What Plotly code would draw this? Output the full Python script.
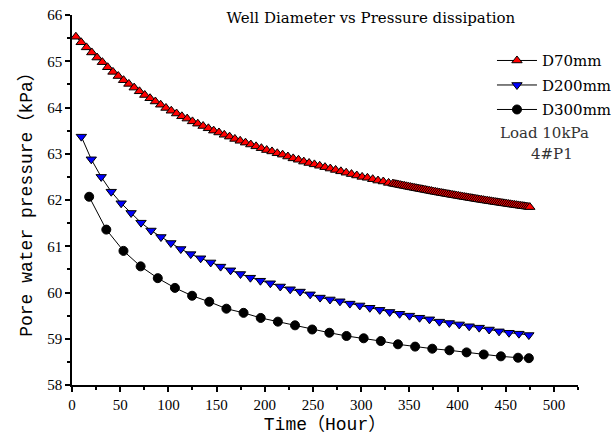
import plotly.graph_objects as go

# Elapsed time (hours) and pore water pressure (kPa) for each well diameter
d70_time = [4, 9.5, 15, 20.5, 26, 31.5, 37, 42.5, 48, 53.5, 59, 64.5, 70, 75.5, 81, 86.5,
            92, 97.5, 103, 108.5, 114, 119.5, 125, 130.5, 136, 141.5, 147, 152.5, 158,
            163.5, 169, 174.5, 180, 185.5, 191, 196.5, 202, 207.5, 213, 218.5, 224, 229.5,
            235, 240.5, 246, 251.5, 257, 262.5, 268, 273.5, 279, 284.5, 290, 295.5, 301,
            306.5, 312, 317.5, 323, 328.5,
            333, 335, 337, 339, 341, 343, 345, 347, 349, 351, 353, 355, 357, 359, 361, 363,
            365, 367, 369, 371, 373, 375, 377, 379, 381, 383, 385, 387, 389, 391, 393, 395,
            397, 399, 401, 403, 405, 407, 409, 411, 413, 415, 417, 419, 421, 423, 425, 427,
            429, 431, 433, 435, 437, 439, 441, 443, 445, 447, 449, 451, 453, 455, 457, 459,
            461, 463, 465, 467, 469, 471, 473, 475]
d70_pressure = [65.53, 65.41, 65.30, 65.19, 65.08, 64.98, 64.87, 64.77, 64.68, 64.59, 64.51,
                64.43, 64.35, 64.27, 64.20, 64.13, 64.06, 63.99, 63.93, 63.87, 63.81, 63.76,
                63.70, 63.65, 63.60, 63.55, 63.50, 63.46, 63.41, 63.37, 63.32, 63.28, 63.24,
                63.20, 63.16, 63.12, 63.08, 63.05, 63.01, 62.98, 62.94, 62.90, 62.87, 62.83,
                62.80, 62.77, 62.74, 62.71, 62.68, 62.65, 62.62, 62.59, 62.56, 62.53, 62.50,
                62.48, 62.45, 62.42, 62.40, 62.37,
                62.355, 62.346, 62.338, 62.330, 62.321, 62.313, 62.305, 62.296, 62.288,
                62.280, 62.272, 62.264, 62.256, 62.248, 62.240, 62.232, 62.224, 62.216,
                62.208, 62.200, 62.192, 62.184, 62.176, 62.168, 62.161, 62.154, 62.146,
                62.139, 62.131, 62.124, 62.116, 62.109, 62.102, 62.095, 62.088, 62.080,
                62.073, 62.066, 62.059, 62.052, 62.045, 62.038, 62.031, 62.024, 62.017,
                62.010, 62.003, 61.997, 61.990, 61.984, 61.977, 61.971, 61.964, 61.958,
                61.951, 61.945, 61.938, 61.932, 61.926, 61.920, 61.913, 61.907, 61.901,
                61.895, 61.889, 61.883, 61.877, 61.871, 61.865, 61.859, 61.853, 61.847]

d200_time = [9.7, 20.0, 30.3, 40.7, 51.0, 61.3, 71.6, 82.0, 92.3, 102.6, 112.9, 123.2, 133.5,
             143.9, 154.2, 164.5, 174.8, 185.1, 195.5, 205.8, 216.1, 226.4, 236.7, 247.1,
             257.4, 267.7, 278.0, 288.3, 298.6, 309.0, 319.3, 329.6, 339.9, 350.2, 360.6,
             370.9, 381.2, 391.5, 401.8, 412.1, 422.5, 432.8, 443.1, 453.4, 463.7, 474.0]
d200_pressure = [63.37, 62.88, 62.50, 62.18, 61.93, 61.72, 61.51, 61.34, 61.20, 61.07, 60.94,
                 60.83, 60.74, 60.65, 60.56, 60.48, 60.40, 60.32, 60.255, 60.20, 60.13, 60.07,
                 60.02, 59.96, 59.89, 59.85, 59.81, 59.76, 59.72, 59.67, 59.625, 59.58, 59.54,
                 59.50, 59.455, 59.42, 59.37, 59.34, 59.31, 59.27, 59.24, 59.20, 59.16, 59.13,
                 59.11, 59.08]

d300_time = [17.8, 35.6, 53.4, 71.2, 89.0, 106.8, 124.6, 142.4, 160.2, 178.0, 195.8, 213.6,
             231.4, 249.2, 267.0, 284.8, 302.6, 320.4, 338.2, 356.0, 373.8, 391.6, 409.4,
             427.2, 445.0, 462.8, 474.0]
d300_pressure = [62.07, 61.36, 60.90, 60.565, 60.31, 60.10, 59.93, 59.80, 59.65, 59.56, 59.45,
                 59.37, 59.29, 59.20, 59.13, 59.06, 59.01, 58.95, 58.88, 58.83, 58.785, 58.75,
                 58.705, 58.66, 58.62, 58.59, 58.58]

x_ticks = [0, 50, 100, 150, 200, 250, 300, 350, 400, 450, 500]
y_ticks = [58, 59, 60, 61, 62, 63, 64, 65, 66]

MONO = "Liberation Mono, Noto Sans CJK SC, monospace"
SERIF = "Liberation Serif, Noto Sans CJK SC, serif"
WIDE_SERIF = "DejaVu Serif, Noto Sans CJK SC, serif"

fig = go.Figure()

series = [
    ("D70mm", d70_time, d70_pressure, "triangle-up", "#ff0000", 9),
    ("D200mm", d200_time, d200_pressure, "triangle-down", "#0000ff", 9),
    ("D300mm", d300_time, d300_pressure, "circle", "#000000", 9),
]
for name, t, p, symbol, color, size in series:
    fig.add_trace(go.Scatter(
        x=t, y=p, name=name, legendgroup=name, mode="lines+markers",
        line=dict(color="#000000", width=1),
        marker=dict(symbol=symbol, size=size, color=color,
                    line=dict(color="#000000", width=1)),
    ))

axis_common = dict(
    showgrid=False, zeroline=False, showline=True, linecolor="#000000", linewidth=1.5,
    ticks="outside", ticklen=5, tickwidth=1.5, tickcolor="#000000",
    tickfont=dict(family=SERIF, size=15, color="#000000"),
)

fig.update_layout(
    width=613, height=445,
    margin=dict(l=72, r=35, t=15, b=60, autoexpand=False),
    paper_bgcolor="#ffffff", plot_bgcolor="#ffffff",
    showlegend=True,
    legend=dict(
        x=0.83, y=0.921, xanchor="left", yanchor="top",
        font=dict(family=WIDE_SERIF, size=15, color="#000000"),
        bgcolor="rgba(0,0,0,0)", tracegroupgap=2, itemwidth=40,
    ),
    xaxis=dict(
        range=[0, 525], tickvals=x_ticks,
        minor=dict(dtick=25, ticks="outside", ticklen=3, tickcolor="#000000", tickwidth=1.5),
        title=dict(text="Time（Hour）", font=dict(family=MONO, size=18, color="#000000"),
                   standoff=6),
        **axis_common,
    ),
    yaxis=dict(
        range=[58, 66], tickvals=y_ticks,
        minor=dict(dtick=0.5, ticks="outside", ticklen=3, tickcolor="#000000", tickwidth=1.5),
        title=dict(text="Pore water pressure（kPa）", font=dict(family=MONO, size=18, color="#000000"),
                   standoff=10),
        **axis_common,
    ),
    title=dict(
        text="Well Diameter vs Pressure dissipation",
        font=dict(family=WIDE_SERIF, size=15, color="#000000"),
        xref="container", yref="container", x=0.605, y=0.96,
        xanchor="center", yanchor="middle",
    ),
    annotations=[
        dict(text="Load 10kPa", xref="paper", yref="paper", x=0.842, y=0.682,
             xanchor="left", yanchor="middle", showarrow=False,
             font=dict(family=WIDE_SERIF, size=15, color="#333333")),
        dict(text="4#P1", xref="paper", yref="paper", x=0.948, y=0.623,
             xanchor="center", yanchor="middle", showarrow=False,
             font=dict(family=WIDE_SERIF, size=15, color="#333333")),
    ],
)

fig.write_html("out.html")
